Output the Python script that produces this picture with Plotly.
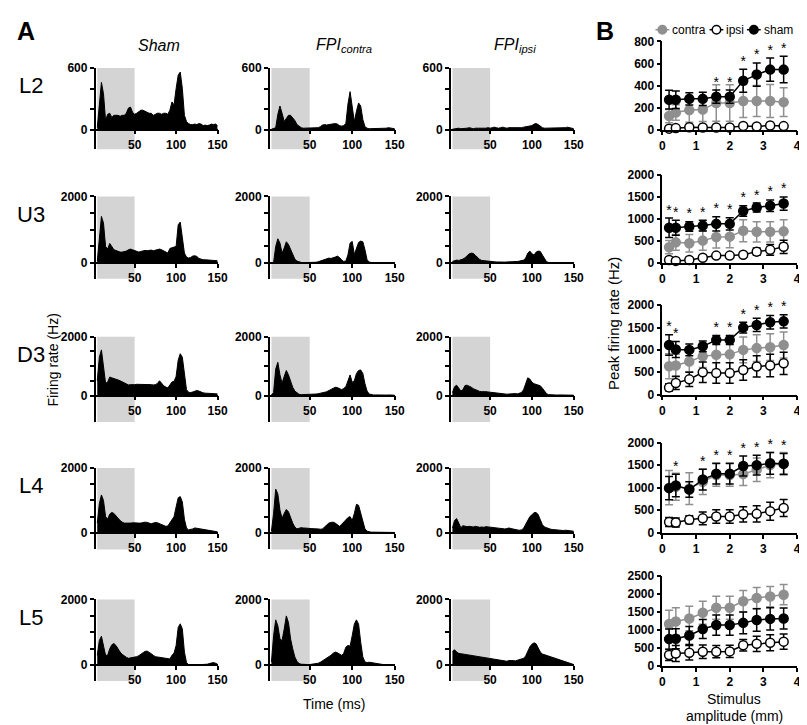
import plotly.graph_objects as go

W, H = 807, 725
FONT = "Liberation Sans, Arial, sans-serif"
GRAY = "#8f8f8f"
SHADE = "#d4d4d4"

# ---------------- Panel A: PSTH data (firing rate, Hz) ----------------
time_ms = [5, 7.5, 10, 12.5, 15, 17.5, 20, 22.5, 25, 27.5, 30, 32.5, 35, 37.5, 40, 42.5, 45, 47.5, 50,
           52.5, 55, 57.5, 60, 62.5, 65, 67.5, 70, 72.5, 75, 77.5, 80, 82.5, 85, 87.5, 90, 92.5, 95, 97.5, 100,
           102.5, 105, 107.5, 110, 112.5, 115, 117.5, 120, 122.5, 125, 127.5, 130, 132.5, 135, 137.5, 140, 142.5, 145, 147.5, 150]

sham_L2 = [20, 250, 460, 350, 90, 150, 160, 120, 140, 140, 140, 130, 140, 140, 160, 210, 220, 170, 150,
           160, 180, 190, 190, 180, 170, 160, 160, 140, 150, 160, 160, 150, 160, 160, 150, 190, 270, 240, 400,
           530, 560, 400, 140, 80, 60, 50, 50, 55, 50, 60, 55, 40, 45, 40, 45, 55, 50, 55, 40]
contra_L2 = [5, 10, 20, 150, 230, 160, 80, 110, 140, 140, 120, 90, 50, 30, 20, 15, 15, 20, 20,
             15, 15, 15, 20, 30, 45, 50, 45, 50, 55, 55, 60, 55, 40, 35, 40, 60, 250, 370, 240,
             80, 180, 260, 230, 100, 30, 15, 10, 10, 10, 10, 10, 15, 10, 15, 15, 20, 15, 15, 10]
ipsi_L2 = [5, 10, 10, 15, 10, 10, 15, 15, 20, 15, 10, 15, 15, 10, 15, 10, 15, 20, 15,
           20, 25, 20, 15, 20, 25, 20, 15, 20, 20, 15, 20, 15, 15, 20, 25, 30, 30, 35, 40,
           55, 60, 50, 30, 20, 15, 15, 20, 20, 15, 15, 20, 20, 15, 15, 20, 25, 20, 15, 10]

sham_U3 = [50, 700, 1400, 1200, 500, 420, 590, 500, 400, 380, 350, 330, 330, 340, 360, 400, 420, 400, 380,
           340, 330, 350, 370, 380, 370, 380, 390, 370, 390, 410, 420, 400, 360, 320, 300, 440, 470, 480, 500,
           1150, 1230, 800, 300, 180, 150, 170, 210, 220, 200, 140, 110, 100, 100, 95, 100, 90, 90, 80, 70]
contra_U3 = [10, 20, 500, 730, 600, 300, 450, 640, 560, 420, 250, 120, 60, 30, 20, 15, 15, 20, 15,
             15, 20, 25, 40, 60, 90, 110, 140, 150, 140, 150, 180, 210, 170, 100, 50, 60, 250, 600, 650,
             260, 450, 620, 660, 640, 400, 100, 30, 15, 10, 10, 10, 10, 10, 10, 10, 10, 10, 10, 10]
ipsi_U3 = [50, 80, 90, 80, 90, 120, 160, 220, 280, 300, 290, 230, 160, 110, 80, 70, 70, 60, 55,
           45, 40, 35, 30, 30, 30, 30, 35, 35, 40, 40, 45, 50, 60, 70, 90, 150, 300, 360, 280,
           240, 330, 360, 350, 240, 120, 40, 20, 15, 10, 10, 10, 10, 10, 10, 10, 10, 10, 10, 10]

sham_D3 = [500, 1300, 1550, 1000, 420, 450, 630, 600, 580, 570, 530, 500, 460, 420, 390, 360, 370, 360, 370,
           380, 380, 380, 390, 390, 380, 380, 370, 360, 370, 410, 500, 420, 330, 290, 260, 360, 460, 480, 650,
           1200, 1420, 1300, 700, 200, 110, 100, 120, 150, 170, 150, 110, 90, 80, 75, 80, 70, 70, 65, 55]
contra_D3 = [20, 100, 900, 1130, 700, 420, 650, 850, 700, 450, 280, 150, 80, 40, 30, 30, 35, 40, 40,
             40, 45, 50, 60, 70, 90, 110, 130, 170, 220, 260, 280, 270, 220, 200, 240, 300, 500, 700, 450,
             500, 750, 850, 870, 750, 400, 150, 50, 30, 20, 20, 15, 15, 15, 20, 15, 20, 15, 15, 10]
ipsi_D3 = [100, 300, 350, 250, 150, 200, 340, 350, 320, 280, 230, 200, 160, 140, 130, 140, 130, 120, 110,
           100, 95, 90, 80, 60, 50, 45, 45, 50, 60, 70, 65, 55, 70, 100, 200, 400, 600, 560, 450,
           400, 380, 370, 330, 250, 150, 60, 30, 20, 20, 15, 15, 20, 15, 15, 10, 10, 10, 10, 10]

sham_L4 = [300, 900, 1170, 1000, 500, 420, 580, 630, 600, 520, 430, 380, 330, 300, 300, 290, 300, 310, 300,
           290, 300, 300, 320, 330, 320, 290, 280, 300, 320, 310, 280, 250, 220, 200, 210, 300, 400, 500, 800,
           1080, 1120, 950, 420, 150, 90, 100, 120, 150, 140, 120, 100, 90, 80, 85, 80, 70, 60, 50, 30]
contra_L4 = [50, 600, 1350, 1200, 700, 450, 600, 720, 650, 450, 300, 180, 120, 140, 160, 150, 140, 140, 130,
             130, 125, 130, 120, 110, 120, 180, 250, 300, 320, 330, 300, 250, 200, 260, 330, 400, 470, 500, 380,
             600, 880, 850, 600, 300, 120, 50, 30, 20, 20, 20, 20, 20, 25, 20, 25, 30, 30, 20, 10]
ipsi_L4 = [150, 380, 440, 300, 160, 220, 200, 190, 200, 190, 180, 200, 180, 170, 180, 170, 190, 180, 170,
           160, 150, 150, 140, 130, 130, 120, 130, 150, 130, 110, 100, 90, 80, 90, 140, 250, 380, 500, 560,
           620, 630, 560, 400, 250, 180, 150, 120, 110, 100, 90, 90, 80, 80, 70, 80, 70, 60, 60, 50]

sham_L5 = [300, 750, 880, 600, 300, 300, 500, 620, 660, 600, 480, 400, 330, 280, 240, 210, 220, 230, 240,
           260, 290, 330, 380, 420, 430, 400, 350, 300, 260, 250, 240, 230, 220, 210, 200, 190, 300, 370, 600,
           1150, 1260, 1100, 400, 80, 20, 10, 10, 10, 10, 10, 10, 15, 20, 30, 50, 70, 80, 60, 30]
contra_L5 = [100, 900, 1380, 1200, 800, 750, 1100, 1500, 1300, 800, 500, 250, 120, 50, 30, 20, 20, 20, 20,
             25, 30, 40, 60, 90, 130, 170, 200, 250, 300, 360, 400, 380, 330, 300, 360, 550, 600, 580, 900,
             1250, 1380, 1250, 700, 250, 100, 80, 90, 80, 60, 40, 30, 20, 20, 15, 20, 20, 15, 10, 10]
ipsi_L5 = [420, 470, 400, 360, 350, 340, 330, 310, 300, 300, 280, 280, 270, 260, 240, 230, 220, 210, 200,
           210, 200, 190, 180, 160, 140, 130, 120, 140, 150, 140, 130, 150, 170, 190, 210, 280, 420, 560, 640,
           680, 650, 520, 400, 340, 320, 300, 280, 260, 240, 210, 190, 160, 140, 120, 100, 80, 60, 40, 20]

hist_rows = ["L2", "U3", "D3", "L4", "L5"]
hist_data = {
    "L2": [sham_L2, contra_L2, ipsi_L2],
    "U3": [sham_U3, contra_U3, ipsi_U3],
    "D3": [sham_D3, contra_D3, ipsi_D3],
    "L4": [sham_L4, contra_L4, ipsi_L4],
    "L5": [sham_L5, contra_L5, ipsi_L5],
}
hist_yticks = {
    "L2": [0, 200, 400, 600],
    "U3": [0, 500, 1000, 1500, 2000],
    "D3": [0, 500, 1000, 1500, 2000],
    "L4": [0, 500, 1000, 1500, 2000],
    "L5": [0, 500, 1000, 1500, 2000],
}
hist_xticks = [50, 100, 150]
stim_window_ms = [5, 50]
col_titles = ["<i>Sham</i>", "<i>FPI<sub>contra</sub></i>", "<i>FPI<sub>ipsi</sub></i>"]

# ---------------- Panel B: peak firing rate vs amplitude ----------------
amp_mm = [0.2, 0.4, 0.8, 1.2, 1.6, 2.0, 2.4, 2.8, 3.2, 3.6]

contra_peak = {
    "L2": [124, 157, 178, 184, 243, 243, 260, 260, 260, 250],
    "U3": [360, 470, 450, 510, 590, 600, 735, 710, 710, 720],
    "D3": [635, 650, 740, 855, 890, 900, 1000, 1040, 1060, 1110],
    "L4": [1000, 1020, 980, 1130, 1280, 1280, 1300, 1400, 1500, 1530],
    "L5": [1170, 1240, 1320, 1480, 1620, 1620, 1800, 1890, 1930, 1980],
}
contra_sem = {
    "L2": [60, 70, 110, 110, 165, 165, 150, 140, 150, 130],
    "U3": [150, 180, 200, 220, 250, 250, 250, 230, 230, 260],
    "D3": [280, 250, 230, 250, 330, 330, 290, 300, 300, 290],
    "L4": [380, 300, 350, 280, 250, 250, 250, 260, 280, 250],
    "L5": [380, 380, 340, 320, 320, 320, 300, 290, 280, 280],
}
ipsi_peak = {
    "L2": [10, 15, 22, 20, 20, 20, 35, 30, 38, 33],
    "U3": [70, 50, 70, 120, 170, 170, 190, 260, 300, 370],
    "D3": [160, 260, 340, 500, 480, 480, 550, 630, 650, 700],
    "L4": [240, 230, 290, 320, 360, 360, 410, 420, 480, 550],
    "L5": [310, 350, 370, 400, 400, 410, 580, 620, 650, 680],
}
ipsi_sem = {
    "L2": [8, 8, 10, 10, 10, 10, 12, 10, 12, 10],
    "U3": [30, 20, 30, 30, 30, 40, 50, 80, 120, 150],
    "D3": [80, 150, 160, 230, 230, 230, 230, 240, 250, 250],
    "L4": [100, 100, 90, 140, 150, 150, 170, 180, 200, 190],
    "L5": [150, 220, 200, 190, 170, 170, 160, 210, 220, 210],
}
sham_peak = {
    "L2": [272, 272, 280, 280, 300, 300, 444, 500, 545, 545],
    "U3": [800, 800, 830, 850, 890, 890, 1180, 1260, 1300, 1350],
    "D3": [1110, 1010, 1000, 1080, 1220, 1220, 1500, 1560, 1620, 1640],
    "L4": [990, 1050, 960, 1180, 1310, 1310, 1480, 1500, 1540, 1530],
    "L5": [750, 760, 850, 1030, 1140, 1140, 1200, 1280, 1310, 1320],
}
sham_sem = {
    "L2": [85, 80, 55, 60, 60, 60, 105, 105, 105, 120],
    "U3": [220, 170, 110, 120, 160, 140, 120, 100, 130, 150],
    "D3": [230, 180, 130, 120, 100, 100, 120, 150, 150, 150],
    "L4": [260, 250, 170, 230, 230, 230, 220, 220, 240, 230],
    "L5": [280, 280, 250, 260, 280, 280, 300, 310, 310, 290],
}
signif_amp = {
    "L2": [1.6, 2.0, 2.4, 2.8, 3.2, 3.6],
    "U3": [0.2, 0.4, 0.8, 1.2, 1.6, 2.0, 2.4, 2.8, 3.2, 3.6],
    "D3": [0.2, 0.4, 1.6, 2.0, 2.4, 2.8, 3.2, 3.6],
    "L4": [0.4, 1.2, 1.6, 2.0, 2.4, 2.8, 3.2, 3.6],
    "L5": [],
}
peak_yticks = {
    "L2": [0, 200, 400, 600, 800],
    "U3": [0, 500, 1000, 1500, 2000],
    "D3": [0, 500, 1000, 1500, 2000],
    "L4": [0, 500, 1000, 1500, 2000],
    "L5": [0, 500, 1000, 1500, 2000, 2500],
}
amp_ticks = [0, 1, 2, 3, 4]

# ---------------- layout geometry (pixels) ----------------
col_px = [(86, 210), (263, 390), (447, 572)]
row_px = {"L2": (54, 117, 137), "U3": (185, 253, 269), "D3": (328, 388, 415),
          "L4": (462, 528, 545), "L5": (596, 663, 679)}
b_col_px = (662, 799)
b_row_px = {"L2": (27, 117), "U3": (163, 253), "D3": (296, 387), "L4": (436, 528), "L5": (572, 664)}


def fx(p):
    return p / W


def fy(p):
    return 1 - p / H


tickfont = dict(family=FONT, size=12, color="black", weight="bold")
tick_style = dict(showline=True, linecolor="black", linewidth=1.5,
                  ticks="outside", ticklen=4, tickwidth=1.5, tickcolor="black",
                  tickfont=tickfont, showgrid=False, zeroline=False)
fig = go.Figure()
layout = dict(width=W, height=H, margin=dict(l=0, r=0, t=0, b=0),
              plot_bgcolor="white", paper_bgcolor="white", showlegend=False)
shapes = []
annotations = []

n = 0
for r in hist_rows:
    top_px, zero_px, bot_px = row_px[r]
    yt = hist_yticks[r]
    ymax = yt[-1]
    ymin = -ymax * (bot_px - zero_px) / (zero_px - top_px)
    for c in range(3):
        n += 1
        sx = "" if n == 1 else str(n)
        layout["xaxis" + sx] = dict(
            domain=[fx(col_px[c][0]), fx(col_px[c][1])], range=[3, 150],
            anchor="free", position=fy(zero_px), tickvals=hist_xticks, **tick_style)
        layout["yaxis" + sx] = dict(
            domain=[fy(bot_px), fy(top_px)], range=[ymin, ymax], anchor="x" + sx,
            tickvals=[yt[0], yt[-1]],
            minor=dict(tickvals=yt[1:-1], ticks="outside", ticklen=4, tickwidth=1.5,
                       tickcolor="black", showgrid=False),
            **tick_style)
        shapes.append(dict(type="rect", xref="x" + sx, yref="y" + sx + " domain",
                           x0=stim_window_ms[0], x1=stim_window_ms[1], y0=0, y1=1,
                           fillcolor=SHADE, line=dict(width=0), layer="below"))
        fig.add_trace(go.Scatter(x=time_ms, y=hist_data[r][c], xaxis="x" + sx, yaxis="y" + sx,
                                 mode="lines", fill="tozeroy", fillcolor="black",
                                 line=dict(color="black", width=1), hoverinfo="skip"))

# Panel B
for r in hist_rows:
    n += 1
    sx = str(n)
    bt, bz = b_row_px[r]
    yt = peak_yticks[r]
    layout["xaxis" + sx] = dict(
        domain=[fx(b_col_px[0]), fx(b_col_px[1])], range=[0, 4], anchor="y" + sx,
        tickvals=amp_ticks, **tick_style)
    layout["yaxis" + sx] = dict(
        domain=[fy(bz), fy(bt)], range=[0, yt[-1]], anchor="x" + sx,
        tickvals=yt, **tick_style)

    def series(y, e, col, fill):
        return go.Scatter(
            x=amp_mm, y=y, xaxis="x" + sx, yaxis="y" + sx, mode="lines+markers",
            line=dict(color=col, width=1.5),
            marker=dict(size=9, color=fill, line=dict(color=col, width=1.5)),
            error_y=dict(type="data", array=e, visible=True, color=col, thickness=1.5, width=4),
            cliponaxis=False, hoverinfo="skip")

    fig.add_trace(series(contra_peak[r], contra_sem[r], GRAY, GRAY))
    fig.add_trace(series(ipsi_peak[r], ipsi_sem[r], "black", "white"))
    fig.add_trace(series(sham_peak[r], sham_sem[r], "black", "black"))
    if signif_amp[r]:
        idx = [amp_mm.index(a) for a in signif_amp[r]]
        fig.add_trace(go.Scatter(
            x=signif_amp[r], y=[sham_peak[r][i] + sham_sem[r][i] for i in idx],
            xaxis="x" + sx, yaxis="y" + sx, mode="text", text=["*"] * len(idx),
            textposition="top center", textfont=dict(family=FONT, size=14, color="black"),
            cliponaxis=False, hoverinfo="skip"))


def ann(text, x, y, size, rot=0, weight="normal", xanchor="center"):
    annotations.append(dict(text=text, x=fx(x), y=fy(y), xref="paper", yref="paper",
                            showarrow=False, textangle=rot, xanchor=xanchor, yanchor="middle",
                            borderpad=0,
                            font=dict(family=FONT, size=size, color="black", weight=weight)))


ann("A", 15, 16, 25, weight="bold")
ann("B", 604, 16, 25, weight="bold")
title_x = [150, 338, 512]
for t, x in zip(col_titles, title_x):
    ann(t, x, 31, 16)
for r in hist_rows:
    ann(r, 20, row_px[r][0] + 18, 22)
ann("Firing rate (Hz)", 43, 352, 14, rot=-90)
ann("Time (ms)", 328, 703, 14)
ann("Peak firing rate (Hz)", 613, 315, 15, rot=-90)
ann("Stimulus", 735, 697, 14)
ann("amplitude (mm)", 735, 715, 14)

# manual legend for panel B
legend_items = [("contra", GRAY, GRAY, 655), ("ipsi", "black", "white", 710), ("sham", "black", "black", 748)]
for name, col, fill, x0 in legend_items:
    shapes.append(dict(type="line", xref="paper", yref="paper", x0=fx(x0), x1=fx(x0 + 14),
                       y0=fy(15), y1=fy(15), line=dict(color=col, width=1.5)))
    shapes.append(dict(type="circle", xref="paper", yref="paper", xsizemode="pixel", ysizemode="pixel",
                       xanchor=fx(x0 + 7), yanchor=fy(15), x0=-4.2, x1=4.2, y0=-4.2, y1=4.2,
                       fillcolor=fill, line=dict(color=col, width=1.5)))
    ann(name, x0 + 16, 15, 12, xanchor="left")

layout["shapes"] = shapes
layout["annotations"] = annotations
fig.update_layout(**layout)
fig.write_html("out.html")
